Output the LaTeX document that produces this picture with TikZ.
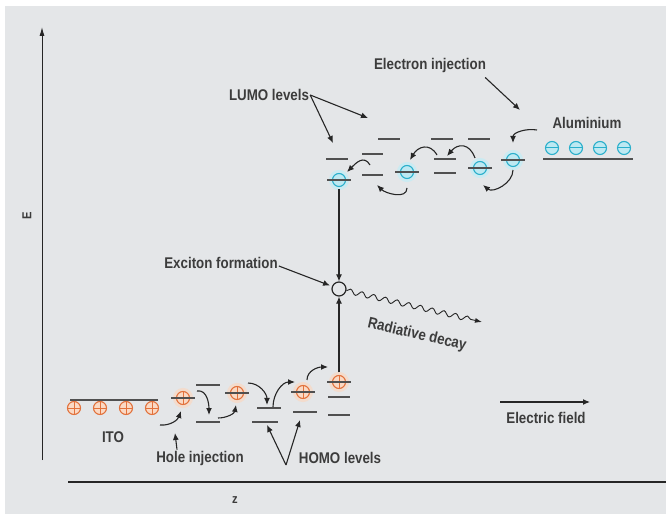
\documentclass[tikz,border=0pt]{standalone}
\usepackage{fontspec}
\setmainfont{Liberation Sans}[FakeStretch=0.86]
\usetikzlibrary{arrows.meta,decorations.pathmorphing}

\definecolor{panelgray}{HTML}{E4E6E8}
\definecolor{inkgray}{HTML}{262626}
\definecolor{levelgray}{HTML}{505050}
\definecolor{holeline}{HTML}{E2723C}
\definecolor{holefill}{HTML}{FAD9C4}
\definecolor{holeglow}{HTML}{F3DCCD}
\definecolor{elecline}{HTML}{2AAFCB}
\definecolor{elecfill}{HTML}{BDE9F2}
\definecolor{elecglow}{HTML}{CBEBF2}

\begin{document}
\begin{tikzpicture}[x=1pt, y=1pt,
  txt/.style={font=\fontsize{15.5}{18}\selectfont\bfseries, text=inkgray!90, inner sep=1pt},
  level/.style={levelgray, line width=1.5pt},
  hop/.style={-{Latex[length=7pt,width=6pt]}, inkgray, line width=1.1pt},
  hole/.style={circle, draw=holeline, fill=holefill, line width=1.1pt, minimum size=13pt, inner sep=0pt,
    path picture={\draw[holeline, line width=1pt] (path picture bounding box.north) -- (path picture bounding box.south)
      (path picture bounding box.west) -- (path picture bounding box.east);}},
  electron/.style={circle, draw=elecline, fill=elecfill, line width=1.1pt, minimum size=13pt, inner sep=0pt,
    path picture={\draw[elecline, line width=1pt] (path picture bounding box.west) -- (path picture bounding box.east);}},
  glowing/.style={preaction={draw=#1, line width=7pt}, outer sep=3pt}]

% Panel
\useasboundingbox (0,0) rectangle (666,514);
\fill[panelgray] (5,0) rectangle (666,508);

% Axes
\coordinate (Ebot) at (42,54);
\coordinate (Etop) at (42,487);
\draw[-{Latex[length=9pt,width=5pt]}, inkgray, line width=1pt] (Ebot) -- (Etop);
\node[txt, font=\fontsize{13}{15}\selectfont\bfseries, rotate=90] (Elabel) at (27,298) {E};
\coordinate (zleft) at (68,32);
\coordinate (zright) at (666,32);
\draw[inkgray, line width=1.2pt] (zleft) -- (zright);
\node[txt, font=\fontsize{13}{15}\selectfont\bfseries] (zlabel) at (235,14) {z};

% ITO electrode
\draw[level] (70,114) -- (158,114);
\foreach \i/\x in {1/74, 2/100, 3/126, 4/152}
  \node[hole] (ito\i) at (\x,106) {};
\node[txt] (ito) at (113,77) {ITO};
\node[txt] (holeinj) at (200,56) {Hole injection};
\coordinate (holeinjtip) at (175,81);
\draw[hop] ([xshift=-23pt]holeinj.north) -- (holeinjtip);

% HOMO levels
\draw[level] (196,129) -- (220,129);
\draw[level] (196,92) -- (220,92);
\draw[level] (257,106) -- (281,106);
\draw[level] (252,92) -- (278,92);
\draw[level] (293,102) -- (317,102);
\draw[level] (328,117) -- (350,117);
\draw[level] (328,99) -- (350,99);

% Holes hopping
\node[hole, glowing=holeglow] (h1) at (183,116) {};
\node[hole, glowing=holeglow] (h2) at (237,121) {};
\node[hole, glowing=holeglow] (h3) at (303,122) {};
\node[hole, glowing=holeglow] (h4) at (339,132) {};
\draw[level, line width=1.2pt] (171,116) -- (195,116);
\draw[level, line width=1.2pt] (225,121) -- (249,121);
\draw[level, line width=1.2pt] (291,122) -- (315,122);
\draw[level, line width=1.2pt] (327,132) -- (351,132);

\draw[hop] ([shift={(8,-17)}]ito4.center) to[out=-5, in=-110] ([shift={(-2,-13)}]h1.center);
\draw[hop] ([shift={(14,7)}]h1.center) to[out=10, in=90] ([shift={(26,-17)}]h1.center);
\draw[hop] ([shift={(-19,-25)}]h2.center) to[out=0, in=-100] ([shift={(-1,-12)}]h2.center);
\draw[hop] ([shift={(11,10)}]h2.center) to[out=0, in=90] ([shift={(30,-12)}]h2.center);
\draw[hop] ([shift={(-30,-15)}]h3.center) to[out=90, in=180] ([shift={(-8,10)}]h3.center);
\draw[hop] ([shift={(4,12)}]h3.center) to[out=90, in=180] ([shift={(-11,15)}]h4.center);

\node[txt] (homo) at (340,56) {HOMO levels};
\coordinate (homoV) at (286,49);
\coordinate (homoL) at (267,89);
\coordinate (homoR) at (300,94);
\draw[hop] (homoV) -- (homoL);
\draw[hop] (homoV) -- (homoR);

% LUMO levels
\draw[level] (378,375) -- (400,375);
\draw[level] (431,375) -- (453,375);
\draw[level] (468,375) -- (490,375);
\draw[level] (362,360) -- (383,360);
\draw[level] (326,355) -- (348,355);
\draw[level] (434,355) -- (456,355);
\draw[level] (434,341) -- (456,341);
\draw[level] (362,339) -- (383,339);

% Electrons hopping
\node[electron, glowing=elecglow] (e1) at (339,334) {};
\node[electron, glowing=elecglow] (e2) at (407,342) {};
\node[electron, glowing=elecglow] (e3) at (480,346) {};
\node[electron, glowing=elecglow] (e4) at (513,354) {};
\draw[level, line width=1.2pt] (327,334) -- (351,334);
\draw[level, line width=1.2pt] (395,342) -- (419,342);
\draw[level, line width=1.2pt] (468,346) -- (492,346);
\draw[level, line width=1.2pt] (501,354) -- (525,354);

% Aluminium electrode
\draw[level] (543,355) -- (633,355);
\foreach \i/\x in {1/552, 2/576, 3/600, 4/624}
  \node[electron] (al\i) at (\x,366) {};
\node[txt] (alu) at (587,391) {Aluminium};

\draw[hop] ([shift={(-15,18)}]al1.center) to[out=170, in=90] ([shift={(0,17)}]e4.center);
\draw[hop] ([shift={(0,-10)}]e4.center) to[out=-90, in=-40] ([shift={(3,-17)}]e3.center);
\draw[hop] ([shift={(-5,10)}]e3.center) to[out=110, in=50, looseness=1.5] ([shift={(-33,12)}]e3.center);
\draw[hop] ([shift={(30,17)}]e2.center) to[out=120, in=60, looseness=1.4] ([shift={(3,12)}]e2.center);
\draw[hop] ([shift={(0,-16)}]e2.center) to[out=-90, in=-45] ([shift={(-30,-13)}]e2.center);
\draw[hop] ([shift={(31,15)}]e1.center) to[out=120, in=45, looseness=1.3] ([shift={(8,8)}]e1.center);

\node[txt] (einj) at (430,449) {Electron injection};
\coordinate (einjtip) at (520,404);
\draw[hop] ([shift={(-2,-4)}]einj.south east) -- (einjtip);

\node[txt] (lumo) at (269,419) {LUMO levels};
\coordinate (lumoA) at (333,371);
\coordinate (lumoB) at (368,396);
\draw[hop] (lumo.east) -- (lumoA);
\draw[hop] (lumo.east) -- (lumoB);

% Exciton
\node[circle, draw=inkgray, line width=1.2pt, minimum size=14pt, inner sep=0pt] (ex) at (339,225) {};
\draw[hop] (e1) -- (ex);
\draw[hop] (h4) -- (ex);
\node[txt] (exform) at (221,251) {Exciton formation};
\draw[hop, shorten >=2pt] ([yshift=-3pt]exform.east) -- (ex);

% Radiative decay
\coordinate (decayend) at (482,192);
\draw[inkgray, line width=0.9pt, -{Latex[length=7pt,width=5pt]}, decorate,
  decoration={snake, amplitude=2.5pt, segment length=12pt, post length=9pt}] (ex) -- (decayend);
\node[txt, rotate=-13] (decay) at (417,179) {Radiative decay};

% Electric field
\coordinate (efstart) at (500,112);
\coordinate (efend) at (590,112);
\draw[hop] (efstart) -- (efend);
\node[txt] (efield) at (546,96) {Electric field};

\end{tikzpicture}
\end{document}
